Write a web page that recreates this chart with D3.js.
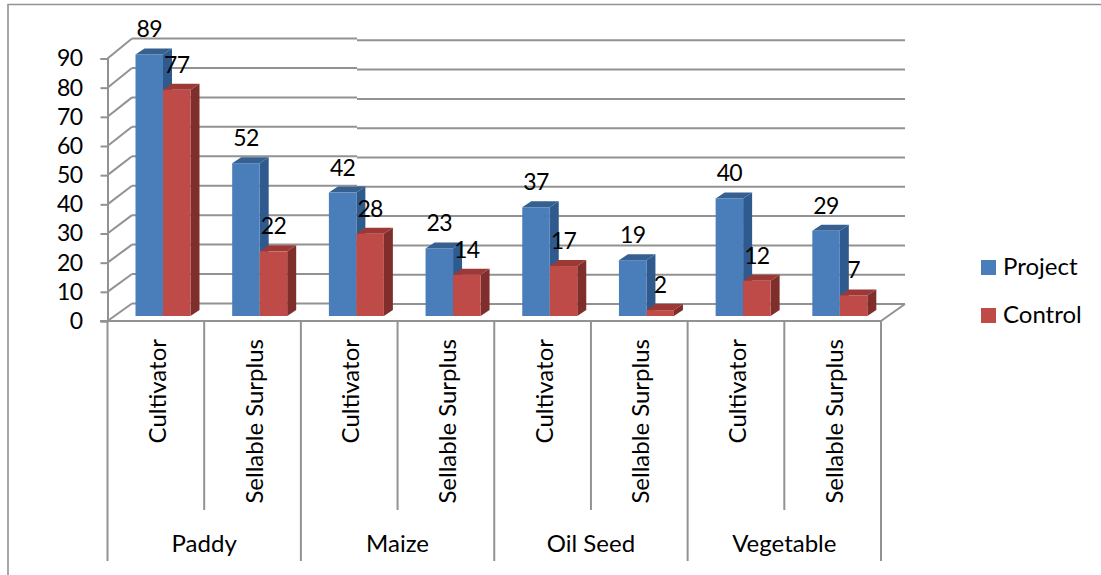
<!DOCTYPE html>
<html>
<head>
<meta charset="utf-8">
<script src="https://cdn.jsdelivr.net/npm/d3@7"></script>
<style>
  html, body { margin: 0; padding: 0; background: #fff; }
  svg { display: block; }
  text { font-family: Lato, "Open Sans", sans-serif; fill: #000; }
  .digit { letter-spacing: -0.6px; }
</style>
</head>
<body>
<svg id="chart" width="1101" height="575"></svg>
<script>
var groups = ['Paddy', 'Maize', 'Oil Seed', 'Vegetable'];
var measures = ['Cultivator', 'Sellable Surplus'];
var project = [89, 52, 42, 23, 37, 19, 40, 29];
var control = [77, 22, 28, 14, 17, 2, 12, 7];
var yTicks = [0, 10, 20, 30, 40, 50, 60, 70, 80, 90];
var seriesNames = ['Project', 'Control'];

var GRID = '#929292';
var WORD_FONT = 24;
var DIGIT_FONT = 23;
var DX = 9, DY = 6;   // bar depth
var colors = {
    Project: { front: '#4a7ebb', side: '#2f5a8d', top: '#36608f' },
    Control: { front: '#be4b48', side: '#7f2e2c', top: '#9c3836' }
};

var rows = [];
groups.forEach(function(g) {
    measures.forEach(function(m) { rows.push(g + '|' + m); });
});

var svg = d3.select('#chart');

var x = d3.scaleBand().domain(rows).range([107.5, 881]);
var xGroup = d3.scaleBand().domain(groups).range([107.5, 881]);
var xSeries = d3.scaleBand().domain(seriesNames).range([0, 55]);

var yFront = d3.scaleLinear().domain([0, 90]).range([321, 58.5]);
var yBack = d3.scaleLinear().domain([0, 90]).range([303.5, 38.5]);
// the wall is a hair lower right of the seam in the picture
var yBackRight = d3.scaleLinear().domain([0, 90]).range([304, 40.3]);
var yBar = d3.scaleLinear().domain([0, 90]).range([316, 51.5]);

var SEAM = 357;

// chart frame, open on the right
svg.append('path')
    .attr('d', 'M8,575V4.5H1101')
    .attr('fill', 'none').attr('stroke', GRID).attr('stroke-width', 1.6);

// back wall gridlines and side wall slants
var grid = svg.append('g').attr('stroke', GRID).attr('stroke-width', 2).attr('fill', 'none');
yTicks.forEach(function(t) {
    grid.append('line')
        .attr('x1', 132).attr('x2', SEAM)
        .attr('y1', yBack(t)).attr('y2', yBack(t));
    grid.append('line')
        .attr('x1', SEAM).attr('x2', 905)
        .attr('y1', yBackRight(t)).attr('y2', yBackRight(t));
    grid.append('line')
        .attr('x1', 107.5).attr('x2', 132)
        .attr('y1', yFront(t)).attr('y2', yBack(t));
});
grid.append('line')
    .attr('x1', 881).attr('x2', 905)
    .attr('y1', yFront(0)).attr('y2', yBackRight(0));

// value axis
var yAxis = svg.append('g')
    .attr('transform', 'translate(107.5,0)')
    .call(d3.axisLeft(yFront).tickValues(yTicks).tickSize(7).tickPadding(18));
yAxis.selectAll('path, line').attr('stroke', GRID).attr('stroke-width', 2);
yAxis.selectAll('text').attr('class', 'digit').style('font-size', DIGIT_FONT + 'px').style('font-family', 'Lato');

// category axis
var cat = svg.append('g').attr('stroke', GRID).attr('stroke-width', 2);
cat.append('line').attr('x1', 100).attr('x2', 881).attr('y1', yFront(0)).attr('y2', yFront(0));
groups.forEach(function(g) {
    cat.append('line').attr('x1', xGroup(g)).attr('x2', xGroup(g)).attr('y1', 321).attr('y2', 561);
    cat.append('line')
        .attr('x1', xGroup(g) + xGroup.bandwidth() / 2).attr('x2', xGroup(g) + xGroup.bandwidth() / 2)
        .attr('y1', 321).attr('y2', 510);
});
cat.append('line').attr('x1', 881).attr('x2', 881).attr('y1', 321).attr('y2', 561);

svg.append('g').selectAll('text')
    .data(groups).enter().append('text')
    .attr('x', function(g) { return xGroup(g) + xGroup.bandwidth() / 2; })
    .attr('y', 552)
    .attr('text-anchor', 'middle')
    .style('font-size', WORD_FONT + 'px')
    .text(function(g) { return g; });

svg.append('g').selectAll('text')
    .data(rows).enter().append('text')
    .attr('transform', function(r) {
        return 'translate(' + (x(r) + x.bandwidth() / 2 + 10) + ',339) rotate(-90)';
    })
    .attr('text-anchor', 'end')
    .style('font-size', WORD_FONT + 'px')
    .text(function(r) { return r.split('|')[1]; });

// 3d bars, drawn row by row so the red one covers the blue side
function barLeft(r, name) {
    return x(r) + 28 + xSeries(name);
}

rows.forEach(function(r, i) {
    [['Project', project[i]], ['Control', control[i]]].forEach(function(s) {
        var name = s[0], v = s[1], c = colors[name];
        var x0 = barLeft(r, name), x1 = x0 + xSeries.bandwidth();
        var top = yBar(v), bottom = yBar(0);
        var g = svg.append('g').attr('class', 'bar');
        g.append('path').attr('fill', c.side)
            .attr('d', d3.line()([[x1, top], [x1 + DX, top - DY], [x1 + DX, bottom - DY], [x1, bottom]]) + 'Z');
        g.append('path').attr('fill', c.top)
            .attr('d', d3.line()([[x0, top], [x0 + DX, top - DY], [x1 + DX, top - DY], [x1, top]]) + 'Z');
        g.append('rect').attr('fill', c.front)
            .attr('x', x0).attr('y', top)
            .attr('width', x1 - x0).attr('height', bottom - top);
    });
});

// value labels on top of everything
rows.forEach(function(r, i) {
    [['Project', project[i]], ['Control', control[i]]].forEach(function(s) {
        svg.append('text')
            .attr('class', 'digit')
            .attr('x', barLeft(r, s[0]) + xSeries.bandwidth() / 2)
            .attr('y', yBar(s[1]) - 17)
            .attr('text-anchor', 'middle')
            .style('font-size', DIGIT_FONT + 'px')
            .text(s[1]);
    });
});

// legend
var legendY = d3.scalePoint().domain(seriesNames).range([260, 308]);
var legend = svg.append('g').selectAll('g')
    .data(seriesNames).enter().append('g')
    .attr('transform', function(d) { return 'translate(981,' + legendY(d) + ')'; });
legend.append('rect').attr('width', 15).attr('height', 15)
    .attr('fill', function(d) { return colors[d].front; });
legend.append('text').attr('x', 22).attr('y', 15)
    .style('font-size', WORD_FONT + 'px')
    .text(function(d) { return d; });
</script>
</body>
</html>
